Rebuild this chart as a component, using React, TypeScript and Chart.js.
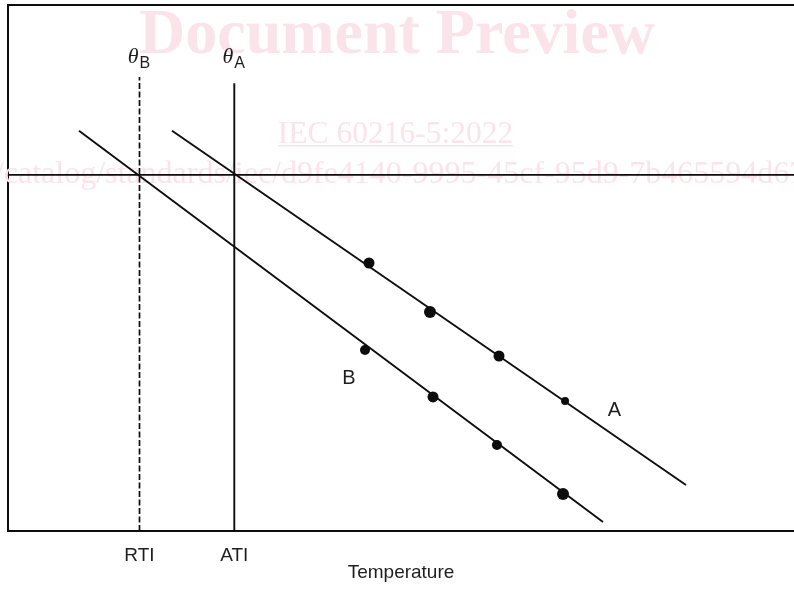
import React, { useEffect, useRef } from "react";
import { Chart, registerables } from "chart.js";

Chart.register(...registerables);

// Data (arbitrary units: x = temperature, y = log time)
const lineA = [ { x: 20.87, y: 76.1 }, { x: 86.26, y: 8.75 } ];
const lineB = [ { x: 9.03, y: 76.1 }, { x: 75.7, y: 1.71 } ];
const pointsA = [ { x: 45.93, y: 50.95 }, { x: 53.69, y: 41.63 }, { x: 62.47, y: 33.27 }, { x: 70.87, y: 24.71 } ];
const pointsB = [ { x: 45.42, y: 34.41 }, { x: 54.07, y: 25.48 }, { x: 62.21, y: 16.35 }, { x: 70.61, y: 7.03 } ];
const thetaLevel = 67.7;
const ATI = 28.79;
const RTI = 16.73;
const thetaATop = 85.1;
const thetaBTop = 86.3;
const tickValues = [RTI, ATI];
const tickLabels = ["RTI", "ATI"];
const seriesLabels = [
  { text: "A", x: 77.16, y: 22.9 },
  { text: "B", x: 43.38, y: 29.0 },
];
const thetaLabels = [
  { sub: "B", x: RTI },
  { sub: "A", x: ATI },
];
const thetaLabelY = 90.0;

const INK = "#0d0d0d";
const TEXT = "#1e1e1e";
const WM = "#fbe3ea";

const watermark = {
  id: "watermark",
  beforeDatasetsDraw(chart: any) {
    const ctx = chart.ctx;
    ctx.save();
    ctx.fillStyle = WM;
    ctx.textBaseline = "alphabetic";
    ctx.textAlign = "center";
    ctx.font = "bold 64px 'Liberation Serif'";
    ctx.fillText("Document Preview", 397, 53);
    ctx.font = "31.5px 'Liberation Serif'";
    const iec = "IEC 60216-5:2022";
    ctx.fillText(iec, 395.5, 143);
    const w = ctx.measureText(iec).width;
    ctx.fillRect(395.5 - w / 2, 145, w, 1.5);
    ctx.textAlign = "left";
    ctx.font = "32px 'Liberation Serif'";
    const prefix = "https://standards.iteh.ai/catalog/standards/iec/";
    const url = prefix + "d9fe4140-9995-45cf-95d9-7b465594d67e/iec-60216-5-2022";
    const px = 281 - ctx.measureText(prefix).width;
    ctx.fillText(url, px, 183);
    ctx.restore();
  },
};

const labelsPlugin = {
  id: "labels",
  afterDatasetsDraw(chart: any) {
    const ctx = chart.ctx;
    const xs = chart.scales.x;
    const ys = chart.scales.y;
    ctx.save();
    ctx.fillStyle = TEXT;
    ctx.textBaseline = "middle";
    for (const l of seriesLabels) {
      ctx.textAlign = "center";
      ctx.font = "20px 'Liberation Sans'";
      ctx.fillText(l.text, xs.getPixelForValue(l.x), ys.getPixelForValue(l.y));
    }
    for (const t of thetaLabels) {
      const px = xs.getPixelForValue(t.x);
      const py = ys.getPixelForValue(thetaLabelY);
      ctx.textAlign = "right";
      ctx.font = "italic 22px 'Liberation Serif'";
      ctx.fillText("θ", px - 1, py);
      ctx.textAlign = "left";
      ctx.font = "16px 'Liberation Sans'";
      ctx.fillText(t.sub, px, py + 6);
    }
    ctx.restore();
  },
};

export default function App() {
  const ref = useRef<HTMLCanvasElement | null>(null);
  useEffect(() => {
    if (!ref.current) return;
    const lineStyle = { showLine: true, borderColor: INK, borderWidth: 1.9, pointRadius: 0, fill: false };
    const chart = new Chart(ref.current, {
      type: "scatter",
      data: {
        datasets: [
          { label: "A", data: lineA, ...lineStyle },
          { label: "B", data: lineB, ...lineStyle },
          { label: "theta", data: [ { x: 0, y: thetaLevel }, { x: 100, y: thetaLevel } ], ...lineStyle },
          { label: "ATI", data: [ { x: ATI, y: 0 }, { x: ATI, y: thetaATop } ], ...lineStyle },
          { label: "RTI", data: [ { x: RTI, y: 0 }, { x: RTI, y: thetaBTop } ], ...lineStyle, borderWidth: 1.7, borderDash: [6, 2.5] },
          { label: "A pts", data: pointsA, showLine: false, pointRadius: [5.5, 6, 5.5, 4], pointBackgroundColor: INK, pointBorderColor: INK, pointBorderWidth: 0 },
          { label: "B pts", data: pointsB, showLine: false, pointRadius: [5, 5.5, 5, 6], pointBackgroundColor: INK, pointBorderColor: INK, pointBorderWidth: 0 },
        ],
      } as any,
      options: {
        animation: false,
        responsive: false,
        events: [],
        layout: { padding: 0, autoPadding: false },
        plugins: { legend: { display: false }, tooltip: { enabled: false } },
        scales: {
          x: {
            type: "linear",
            position: "bottom",
            min: 0,
            max: 100,
            grid: { display: false, drawTicks: false },
            border: { display: true, color: INK, width: 2 },
            afterBuildTicks: (s: any) => { s.ticks = tickValues.map((v) => ({ value: v })); },
            afterFit: (s: any) => { s.height = 64; },
            ticks: {
              color: TEXT,
              padding: 13,
              maxRotation: 0,
              autoSkip: false,
              font: { family: "'Liberation Sans'", size: 19 },
              callback: (v: any) => { const i = tickValues.indexOf(v); return i >= 0 ? tickLabels[i] : ""; },
            },
            title: { display: true, text: "Temperature", color: TEXT, font: { family: "'Liberation Sans'", size: 19 }, padding: { top: 0, bottom: 11 } },
          },
          x2: {
            type: "linear",
            position: "top",
            min: 0,
            max: 100,
            grid: { display: false, drawTicks: false },
            border: { display: true, color: INK, width: 2 },
            ticks: { display: false },
            afterFit: (s: any) => { s.height = 5; },
          },
          y: {
            type: "linear",
            position: "left",
            min: 0,
            max: 100,
            grid: { display: false, drawTicks: false },
            border: { display: true, color: INK, width: 2 },
            ticks: { display: false },
            afterFit: (s: any) => { s.width = 8; },
          },
        },
      } as any,
      plugins: [watermark, labelsPlugin],
    });
    return () => chart.destroy();
  }, []);
  return (
    <canvas
      ref={ref}
      width={794}
      height={595}
      style={{ position: "absolute", left: 0, top: 0, width: 794, height: 595 }}
    />
  );
}
